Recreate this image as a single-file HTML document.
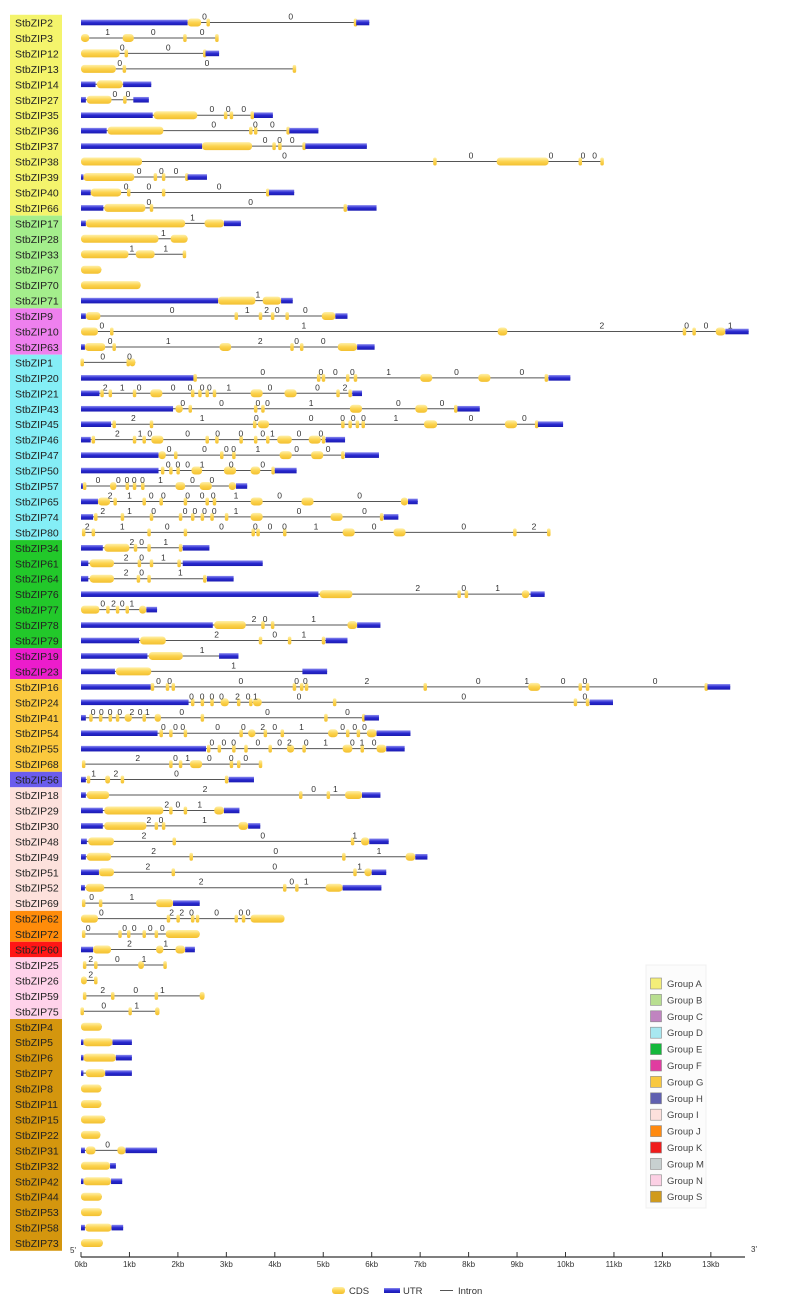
<!DOCTYPE html>
<html><head><meta charset="utf-8">
<style>
html,body{margin:0;padding:0;background:#fff;}
svg{display:block;font-family:"Liberation Sans",sans-serif;}
</style></head>
<body>
<svg id="chart" width="786" height="1308" viewBox="0 0 786 1308" xmlns="http://www.w3.org/2000/svg">
<defs>
<linearGradient id="gC" x1="0" y1="0" x2="0" y2="1"><stop offset="0" stop-color="#fff0a8"/><stop offset="0.5" stop-color="#fcd34e"/><stop offset="1" stop-color="#f2c030"/></linearGradient>
<linearGradient id="gU" x1="0" y1="0" x2="0" y2="1"><stop offset="0" stop-color="#8a8af0"/><stop offset="0.5" stop-color="#2a2ad0"/><stop offset="1" stop-color="#1a1ab0"/></linearGradient>
</defs>
<g id="labels"></g><g id="genes"></g><g id="axis"></g><g id="legend"></g>
</svg>
<script>
const geneNames=["StbZIP2","StbZIP3","StbZIP12","StbZIP13","StbZIP14","StbZIP27","StbZIP35","StbZIP36","StbZIP37","StbZIP38","StbZIP39","StbZIP40","StbZIP66",
"StbZIP17","StbZIP28","StbZIP33","StbZIP67","StbZIP70","StbZIP71",
"StbZIP9","StbZIP10","StbZIP63",
"StbZIP1","StbZIP20","StbZIP21","StbZIP43","StbZIP45","StbZIP46","StbZIP47","StbZIP50","StbZIP57","StbZIP65","StbZIP74","StbZIP80",
"StbZIP34","StbZIP61","StbZIP64","StbZIP76","StbZIP77","StbZIP78","StbZIP79",
"StbZIP19","StbZIP23",
"StbZIP16","StbZIP24","StbZIP41","StbZIP54","StbZIP55","StbZIP68",
"StbZIP56",
"StbZIP18","StbZIP29","StbZIP30","StbZIP48","StbZIP49","StbZIP51","StbZIP52","StbZIP69",
"StbZIP62","StbZIP72","StbZIP60",
"StbZIP25","StbZIP26","StbZIP59","StbZIP75",
"StbZIP4","StbZIP5","StbZIP6","StbZIP7","StbZIP8","StbZIP11","StbZIP15","StbZIP22","StbZIP31","StbZIP32","StbZIP42","StbZIP44","StbZIP53","StbZIP58","StbZIP73"];
const geneGroups=["A","A","A","A","A","A","A","A","A","A","A","A","A","B","B","B","B","B","B","C","C","C",
"D","D","D","D","D","D","D","D","D","D","D","D","E","E","E","E","E","E","E","F","F","G","G","G","G","G","G","H",
"I","I","I","I","I","I","I","I","J","J","K","N","N","N","N",
"S","S","S","S","S","S","S","S","S","S","S","S","S","S","S"];
const geneExons=[
"u0-2.2 c2.2-2.48 c2.62 c5.66 u5.68-5.95",
"c0-0.17 c0.86-1.09 c2.14 c2.8",
"c0-0.8 c0.93 c2.55 u2.57-2.85",
"c0-0.72 c0.89 c4.4",
"u0-0.3 c0.33-0.86 u0.87-1.45",
"u0-0.1 c0.12-0.63 c0.9 u1.08-1.4",
"u0-1.48 c1.5-2.4 c2.98 c3.1 c3.53 u3.57-3.96",
"u0-0.53 c0.55-1.7 c3.5 c3.6 c4.27 u4.3-4.9",
"u0-2.5 c2.5-3.53 c3.98 c4.1 c4.6 u4.63-5.9",
"c0-1.26 c7.3 c8.58-9.65 c10.3 c10.75",
"u0-0.05 c0.05-1.1 c1.53 c1.7 c2.18 u2.2-2.6",
"u0-0.2 c0.2-0.83 c0.98 c1.7 c3.85 u3.88-4.4",
"u0-0.46 c0.48-1.33 c1.45 c5.45 u5.5-6.1",
"u0-0.1 c0.1-2.15 c2.55-2.95 u2.95-3.3",
"c0-1.6 c1.85-2.2",
"c0-0.98 c1.13-1.52 c2.13",
"c0-0.42",
"c0-1.23",
"u0-2.83 c2.83-3.6 c3.75-4.13 u4.13-4.37",
"u0-0.1 c0.1-0.4 c3.2 c3.7 c3.95 c4.25 c4.97-5.25 u5.25-5.5",
"c0-0.35 c0.63 c8.6-8.8 c12.45 c12.65 c13.1-13.3 u13.3-13.78",
"u0-0.08 c0.08-0.5 c0.68 c2.86-3.1 c4.35 c4.55 c5.3-5.7 u5.7-6.06",
"c0.02 c0.97 c1.0-1.12",
"u0-2.33 c2.35 c4.9 c5.0 c5.5 c5.66 c7.0-7.25 c8.2-8.45 c9.6 u9.65-10.1",
"u0-0.38 c0.43 c0.6 c1.1 c1.43-1.68 c2.3 c2.45 c2.6 c2.75 c3.5-3.75 c4.2-4.45 c5.3 c5.55 u5.6-5.8",
"u0-1.9 c1.95-2.1 c2.25 c3.6 c3.75 c5.55-5.8 c6.9-7.15 c7.73 u7.77-8.23",
"u0-0.62 c0.68 c1.45 c3.58 c3.65-3.88 c5.4 c5.55 c5.7 c5.82 c7.08-7.35 c8.75-9.0 c9.4 u9.43-9.95",
"u0-0.2 c0.25 c1.1 c1.3 c1.45-1.7 c2.6 c2.8 c3.3 c3.6 c3.85 c4.05-4.35 c4.7-4.95 c5.0 u5.05-5.45",
"u0-1.6 c1.6-1.75 c1.95 c2.9 c3.15 c4.1-4.35 c4.75-5.0 c5.4 u5.45-6.15",
"u0-1.6 c1.68 c1.85 c2.0 c2.28-2.5 c2.95-3.2 c3.5-3.7 c3.96 u4.0-4.45",
"u0-0.05 c0.07 c0.6-0.73 c0.95 c1.1 c1.27 c1.95-2.15 c2.45-2.7 c3.05-3.2 u3.2-3.43",
"u0-0.35 c0.35-0.6 c0.7 c1.3 c1.65 c2.15 c2.6 c2.75 c3.5-3.75 c4.55-4.8 c6.6-6.75 u6.75-6.95",
"u0-0.25 c0.3 c0.85 c1.45 c2.05 c2.3 c2.5 c2.7 c3.0 c3.5-3.75 c5.15-5.4 c6.2 u6.25-6.55",
"c0.05 c0.25 c1.4 c2.15 c3.55 c3.65 c4.2 c5.4-5.65 c6.45-6.7 c8.95 c9.65",
"u0-0.45 c0.48-1.0 c1.12 c1.4 c2.05 u2.1-2.65",
"u0-0.15 c0.18-0.68 c1.2 c1.45 c2.02 u2.1-3.75",
"u0-0.15 c0.18-0.68 c1.18 c1.4 c2.55 u2.6-3.15",
"u0-4.9 c4.93-5.6 c7.8 c7.95 c9.1-9.25 u9.28-9.57",
"c0-0.38 c0.55 c0.75 c0.95 c1.2-1.35 u1.35-1.57",
"u0-2.72 c2.75-3.4 c3.75 c3.95 c5.5-5.7 u5.7-6.18",
"u0-1.2 c1.22-1.75 c3.7 c4.3 c5.0 u5.05-5.5",
"u0-1.37 c1.4-2.1 u2.85-3.25",
"u0-0.7 c0.72-1.45 u4.57-5.08",
"u0-1.44 c1.47 c1.78 c1.9 c4.4 c4.55 c4.65 c7.1 c9.23-9.48 c10.3 c10.45 c12.9 u12.93-13.4",
"u0-2.22 c2.3 c2.5 c2.7 c2.88-3.05 c3.25 c3.5 c3.55-3.73 c5.23 c10.2 c10.45 u10.5-10.98",
"u0-0.1 c0.2 c0.4 c0.6 c0.75 c0.9-1.05 c1.3 c1.52-1.65 c2.5 c5.05 c5.83 u5.85-6.15",
"u0-1.58 c1.65 c1.85 c2.15 c3.3 c3.45-3.6 c3.8 c4.15 c5.1-5.3 c5.5 c5.72 c5.9-6.1 u6.1-6.8",
"u0-2.58 c2.63 c2.85 c3.15 c3.4 c3.9 c4.25-4.4 c4.6 c5.4-5.6 c5.8 c6.1-6.3 u6.3-6.68",
"c0.05 c1.85 c2.05 c2.25-2.5 c3.1 c3.25 c3.7",
"u0-0.1 c0.15 c0.5-0.6 c0.85 c3.0 u3.05-3.57",
"u0-0.1 c0.12-0.58 c4.53 c5.1 c5.45-5.8 u5.8-6.18",
"u0-0.45 c0.48-1.7 c1.85 c2.15 c2.75-2.95 u2.95-3.27",
"u0-0.45 c0.48-1.35 c1.55 c1.7 c3.25-3.45 u3.45-3.7",
"u0-0.12 c0.15-0.68 c1.92 c5.6 c5.78-5.95 u5.95-6.35",
"u0-0.1 c0.12-0.62 c2.27 c5.42 c6.7-6.9 u6.9-7.15",
"u0-0.37 c0.37-0.68 c1.9 c5.65 c5.85-6.0 u6.0-6.3",
"u0-0.08 c0.1-0.48 c4.2 c4.45 c5.05-5.4 u5.4-6.2",
"c0.05 c0.4 c1.55-1.9 u1.9-2.45",
"c0-0.35 c1.8 c2.0 c2.3 c2.4 c3.2 c3.35 c3.5-4.2",
"c0.05 c0.8 c0.98 c1.3 c1.55 c1.75-2.45",
"u0-0.25 c0.25-0.62 c1.55-1.7 c1.95-2.15 u2.15-2.35",
"c0.07 c0.3 c1.18-1.3 c1.73",
"c0-0.12 c0.3",
"c0.07 c0.65 c1.55 c2.45-2.55",
"c0.02 c0.98-1.05 c1.53-1.62",
"c0-0.43",
"u0-0.05 c0.05-0.65 u0.65-1.05",
"u0-0.05 c0.05-0.72 u0.72-1.05",
"u0-0.05 c0.1-0.5 u0.5-1.05",
"c0-0.42","c0-0.42","c0-0.5","c0-0.4",
"u0-0.08 c0.1-0.3 c0.75-0.92 u0.92-1.57",
"c0-0.6 u0.6-0.72",
"u0-0.05 c0.05-0.62 u0.62-0.85",
"c0-0.43","c0-0.43",
"u0-0.08 c0.09-0.63 u0.63-0.87",
"c0-0.45"];
const genePhases=[
"0@2.55 0@4.33","1@0.55 0@1.49 0@2.5","0@0.85 0@1.8","0@0.8 0@2.6","","0@0.7 0@0.97",
"0@2.7 0@3.04 0@3.36","0@2.74 0@3.6 0@3.95","0@3.8 0@4.1 0@4.36","0@4.2 0@8.05 0@9.7 0@10.36 0@10.6",
"0@1.2 0@1.66 0@1.96","0@0.93 0@1.4 0@2.85","0@1.4 0@3.5",
"1@2.3","1@1.7","1@1.05 1@1.75","","","1@3.65",
"0@1.88 1@3.43 2@3.83 0@4.05 0@4.63","0@0.43 1@4.6 2@10.75 0@12.5 0@12.9 1@13.4","0@0.6 1@1.8 2@3.7 0@4.45 0@5.0",
"0@0.45 0@1.0",
"0@3.75 0@4.95 0@5.25 0@5.6 1@6.35 0@7.75 0@9.1",
"2@0.5 1@0.85 0@1.2 0@1.9 0@2.25 0@2.5 0@2.65 1@3.05 0@3.9 0@4.88 2@5.45",
"0@2.1 0@2.9 0@3.65 0@3.85 1@4.75 0@6.55 0@7.45",
"2@1.08 1@2.5 0@3.62 0@4.75 0@5.4 0@5.62 0@5.83 1@6.5 0@8.05 0@9.15",
"2@0.75 1@1.22 0@1.42 0@2.2 0@2.82 0@3.3 0@3.75 1@3.95 0@4.5 0@4.95",
"0@1.82 0@2.55 0@3.0 0@3.15 1@3.65 0@4.45 0@5.1",
"0@1.8 0@2.0 0@2.2 1@2.5 0@3.1 0@3.75",
"0@0.35 0@0.77 0@0.95 0@1.1 0@1.27 1@1.64 0@2.3 0@2.7",
"2@0.6 1@1.0 0@1.45 0@1.7 0@2.2 0@2.5 0@2.73 1@3.2 0@4.1 0@5.75",
"2@0.45 1@1.0 0@1.5 0@2.15 0@2.35 0@2.55 0@2.75 1@3.2 0@4.5 0@5.85",
"2@0.13 1@0.85 0@1.78 0@2.9 0@3.6 0@3.9 0@4.2 1@4.85 0@6.05 0@7.9 2@9.35",
"2@1.05 0@1.25 1@1.75","2@0.93 0@1.25 1@1.7","2@0.93 0@1.25 1@2.05","2@6.95 0@7.9 1@8.6",
"0@0.45 2@0.67 0@0.85 1@1.05","2@3.57 0@3.8 1@4.8","2@2.8 0@4.0 1@4.6",
"1@2.5","1@3.15",
"0@1.6 0@1.83 0@3.3 0@4.45 0@4.63 2@5.9 0@8.2 1@9.2 0@9.95 0@10.4 0@11.85",
"0@2.28 0@2.5 0@2.7 0@2.9 2@3.23 0@3.45 1@3.6 0@4.5 0@7.9 0@10.4",
"0@0.25 0@0.42 0@0.6 0@0.8 2@1.05 0@1.22 1@1.37 0@2.08 0@3.85 0@5.5",
"0@1.7 0@1.95 0@2.1 0@2.82 0@3.35 2@3.75 0@4.0 1@4.55 0@5.4 0@5.65 0@5.85",
"0@2.7 0@2.95 0@3.15 0@3.65 0@4.1 2@4.3 0@4.65 1@5.05 0@5.6 1@5.8 0@6.05",
"2@1.17 0@1.95 1@2.2 0@2.65 0@3.1 0@3.4",
"1@0.26 2@0.72 0@1.97",
"2@2.56 0@4.8 1@5.25","2@1.77 0@2.0 1@2.45","2@1.4 0@1.65 1@2.55","2@1.3 0@3.75 1@5.65",
"2@1.5 0@4.02 1@6.15","2@1.38 0@4.0 1@5.75","2@2.48 0@4.35 1@4.65","0@0.22 1@1.05",
"0@0.42 2@1.87 2@2.08 0@2.28 0@2.8 0@3.3 0@3.45","0@0.15 0@0.9 0@1.1 0@1.43 0@1.68","2@1.0 1@1.75",
"2@0.2 0@0.75 1@1.3","2@0.2","2@0.45 0@1.13 1@1.68","0@0.47 1@1.15",
"","","","","","","","","0@0.55","","","","","",""];
const groupNames=["A","B","C","D","E","F","G","H","I","J","K","M","N","S"];
const groupColors=["#f4f46c","#a4ee8c","#ee80ee","#84eef6","#22c82a","#ec1ccc","#fbc93e","#6b5ced","#fde1dc","#ff8c0a","#ff1616","#c8d4d4","#ffd2ea","#d4960e"];
const legendColors=["#f4ee78","#b8de90","#c084c0","#a8e8f0","#14b83c","#e03ca0","#f8c840","#6060b0","#fde0dc","#ff8a10","#f01c1c","#c8d0d0","#fcd0e4","#d09a1c"];
const kbTicks=[0,1,2,3,4,5,6,7,8,9,10,11,12,13];

const NS="http://www.w3.org/2000/svg";
const X0=81, PXKB=48.45, Y0=22.5, ROW=15.45;
const xs=k=>X0+k*PXKB, ys=i=>Y0+i*ROW;
function mk(tag,attrs,parent){const e=document.createElementNS(NS,tag);for(const k in attrs)e.setAttribute(k,attrs[k]);parent.appendChild(e);return e;}
const gL=document.getElementById('labels'),gG=document.getElementById('genes'),gA=document.getElementById('axis'),gLeg=document.getElementById('legend');

// group label blocks
let start=0;
for(let i=1;i<=geneNames.length;i++){
  if(i===geneNames.length||geneGroups[i]!==geneGroups[start]){
    const gi=groupNames.indexOf(geneGroups[start]);
    const r=mk('rect',{x:10,y:ys(start)-ROW/2,width:52,height:(i-start)*ROW,fill:groupColors[gi]},gL);
    
    
    start=i;
  }
}
geneNames.forEach((n,i)=>{
  const t=mk('text',{x:15,y:ys(i)+4,'font-size':10.5,fill:'#222'},gL);
  t.textContent=n;
  
  
});

// genes
geneNames.forEach((n,i)=>{
  const g=mk('g',{},gG);
  
  
  const y=ys(i);
  const ex=geneExons[i].split(' ').filter(Boolean).map(s=>{const t=s[0];const p=s.slice(1).split('-').map(Number);return [p[0],p.length>1?p[1]:p[0],t];});
  const mn=Math.min(...ex.map(e=>e[0])), mxv=Math.max(...ex.map(e=>e[1]));
  if(mxv-mn>0){mk('line',{x1:xs(mn),x2:xs(mxv),y1:y,y2:y,stroke:'#555','stroke-width':1},g);}
  ex.forEach(e=>{
    let x1=xs(e[0]),w=xs(e[1])-x1;
    if(e[2]==='u'){
      const r=mk('rect',{x:x1,y:y-2.8,width:Math.max(w,2),height:5.6,fill:'url(#gU)'},g);
      
      
    }else{
      if(w<3){x1-=1.5;w=3.5;}
      const r=mk('rect',{x:x1,y:y-4,width:w,height:8,rx:Math.min(3.5,w/2),fill:'url(#gC)'},g);
      
      
    }
  });
  genePhases[i].split(' ').filter(Boolean).forEach(s=>{
    const [lab,pos]=s.split('@');
    const t=mk('text',{x:xs(Number(pos)),y:y-3,'font-size':8.5,'text-anchor':'middle',fill:'#333'},g);
    t.textContent=lab;
    
    
  });
});

// axis
const AY=1257;
const al=mk('line',{x1:X0,x2:745,y1:AY,y2:AY,stroke:'#333','stroke-width':1.2},gA);


kbTicks.forEach(k=>{
  mk('line',{x1:xs(k),x2:xs(k),y1:AY-5,y2:AY,stroke:'#333','stroke-width':1},gA);
  const t=mk('text',{x:xs(k),y:AY+10,'font-size':8,'text-anchor':'middle',fill:'#333'},gA);
  t.textContent=k+'kb';
  
  
});
const t5=mk('text',{x:70,y:AY-4,'font-size':8,fill:'#333'},gA);t5.textContent="5'";


const t3=mk('text',{x:751,y:AY-5,'font-size':8,fill:'#333'},gA);t3.textContent="3'";



// bottom legend
const bl=mk('g',{},gA);


mk('rect',{x:332,y:1287,width:13,height:7,rx:3,fill:'url(#gC)'},bl);
let tt=mk('text',{x:349,y:1294,'font-size':9.5,fill:'#333'},bl);tt.textContent='CDS';
mk('rect',{x:384,y:1288,width:16,height:5,fill:'url(#gU)'},bl);
tt=mk('text',{x:403,y:1294,'font-size':9.5,fill:'#333'},bl);tt.textContent='UTR';
mk('line',{x1:440,x2:453,y1:1290.5,y2:1290.5,stroke:'#555'},bl);
tt=mk('text',{x:458,y:1294,'font-size':9.5,fill:'#333'},bl);tt.textContent='Intron';

// group legend
const lb=mk('rect',{x:646,y:965,width:60,height:243,fill:'#fcfcfc',stroke:'#f0f0f0'},gLeg);


groupNames.forEach((gname,k)=>{
  const y=978+k*16.4;
  const g=mk('g',{},gLeg);
  
  
  mk('rect',{x:650.5,y:y,width:11,height:11,fill:legendColors[k],stroke:'#888','stroke-width':0.6},g);
  const t=mk('text',{x:667,y:y+9,'font-size':9.5,fill:'#444'},g);
  t.textContent='Group '+gname;
});
</script>
</body></html>
